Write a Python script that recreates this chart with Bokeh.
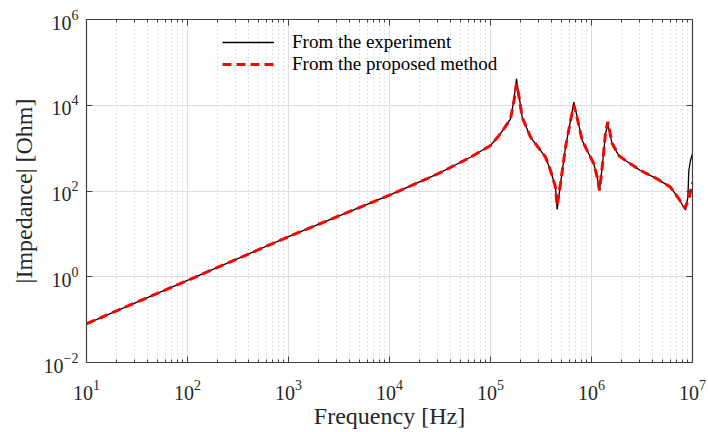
from bokeh.plotting import figure
from bokeh.models import FixedTicker, LogAxis, Legend, LegendItem, Range1d
from bokeh.embed import file_html
from bokeh.resources import INLINE

# ---- data ----
freq_exp = [1e1, 1e2, 1e3, 1e4, 3e4, 6.34e4, 1e5, 1.2e5, 1.355e5, 1.578e5, 1.70e5,
            1.81e5, 1.905e5, 2.06e5, 2.49e5, 3.13e5, 3.51e5, 3.93e5, 4.40e5, 4.57e5,
            4.93e5, 5.53e5, 6.2e5, 6.68e5, 7.22e5, 8.09e5, 9.4e5, 1.054e6, 1.138e6,
            1.2e6, 1.276e6, 1.377e6, 1.45e6, 1.6e6, 1.86e6, 2.17e6, 3.05e6, 4.47e6,
            6.05e6, 7.31e6, 8.53e6, 9.0e6, 9.2e6, 9.55e6, 1e7]
imp_exp = [0.08, 0.82, 8.6, 80, 250, 614, 1150, 1900, 2820, 4830, 12900,
           41400, 18500, 5260, 1800, 881, 614, 301, 123, 37,
           147, 1050, 4410, 11800, 5260, 1510, 738, 431, 210,
           103, 359, 2160, 3700, 1260, 673, 514, 301, 192,
           123, 66, 36, 72, 301, 514, 738]

freq_model = [1e1, 1e2, 1e3, 1e4, 3e4, 6.34e4, 1e5, 1.2e5, 1.355e5, 1.578e5, 1.70e5,
              1.81e5, 1.905e5, 2.06e5, 2.49e5, 3.13e5, 3.51e5, 3.93e5, 4.40e5, 4.57e5,
              4.93e5, 5.53e5, 6.2e5, 6.68e5, 7.22e5, 8.09e5, 9.4e5, 1.054e6, 1.138e6,
              1.2e6, 1.276e6, 1.377e6, 1.45e6, 1.6e6, 1.86e6, 2.17e6, 3.05e6, 4.47e6,
              6.05e6, 7.31e6, 8.4e6, 9.2e6, 9.9e6, 1e7]
imp_model = [0.08, 0.82, 8.6, 80, 250, 614, 1150, 1900, 2820, 4830, 12000,
             32000, 17000, 5260, 1800, 881, 614, 301, 123, 45,
             147, 1050, 4410, 10000, 5000, 1510, 738, 431, 210,
             103, 359, 2300, 4100, 1300, 673, 514, 301, 192,
             123, 66, 40, 65, 140, 158]

x_major = [1e1, 1e2, 1e3, 1e4, 1e5, 1e6, 1e7]
y_major = [1e-2, 1e0, 1e2, 1e4, 1e6]
x_minor = [m * 10.0 ** k for k in range(1, 7) for m in range(2, 10)]

FONT = "Liberation Serif"
TXT = "#262626"

p = figure(width=708, height=432, x_axis_type="log", y_axis_type="log",
           x_range=Range1d(1e1, 1e7), y_range=Range1d(1e-2, 1e6),
           output_backend="svg", toolbar_location=None,
           min_border_left=86, min_border_right=16, min_border_top=19,
           min_border_bottom=70, background_fill_color="white",
           border_fill_color="white", outline_line_color=None)

xt = FixedTicker(ticks=x_major, minor_ticks=x_minor)
yt = FixedTicker(ticks=y_major, minor_ticks=[])
p.xaxis.ticker = xt
p.yaxis.ticker = yt

for g in (p.xgrid, p.ygrid):
    g.grid_line_color = "#dedede"
    g.grid_line_width = 1
p.xgrid.minor_grid_line_color = "#c4c4c4"
p.xgrid.minor_grid_line_dash = "1 3"
p.xgrid.minor_grid_line_width = 1
p.xgrid.ticker = xt
p.ygrid.ticker = yt

def style_axis(ax, labels=True):
    ax.axis_line_color = "#404040"
    ax.axis_line_width = 1.2
    ax.major_tick_line_color = "#404040"
    ax.minor_tick_line_color = "#404040"
    ax.major_tick_in = 6
    ax.major_tick_out = 0
    ax.minor_tick_in = 3
    ax.minor_tick_out = 0
    ax.major_label_text_font = FONT
    if labels:
        ax.major_label_text_color = TXT
        ax.major_label_text_font_size = "20px"
    else:
        ax.major_label_text_color = None
        ax.major_label_text_font_size = "1px"
    ax.axis_label_text_font = FONT
    ax.axis_label_text_color = TXT
    ax.axis_label_text_font_style = "normal"
    ax.axis_label_text_font_size = "24px"

style_axis(p.xaxis[0])
style_axis(p.yaxis[0])
p.xaxis.axis_label = "Frequency [Hz]"
p.yaxis.axis_label = "|Impedance| [Ohm]"
p.xaxis.major_label_standoff = 17
p.yaxis.major_label_standoff = 8
p.xaxis.axis_label_standoff = 0
p.yaxis.axis_label_standoff = 4

top = LogAxis(ticker=xt)
style_axis(top, labels=False)
top.major_label_standoff = 0
p.add_layout(top, "above")
right = LogAxis(ticker=yt)
style_axis(right, labels=False)
right.major_label_standoff = 0
p.add_layout(right, "right")

r1 = p.line(freq_exp, imp_exp, line_color="black", line_width=1.3)
r2 = p.line(freq_model, imp_model, line_color="#ff0000", line_width=3, line_dash="9 5")

legend = Legend(items=[LegendItem(label="From the experiment", renderers=[r1]),
                       LegendItem(label="From the proposed method", renderers=[r2])],
                location=(136, 287), padding=0, spacing=0, margin=0,
                glyph_width=52, glyph_height=20, label_height=20,
                label_standoff=18, label_text_font=FONT,
                label_text_font_size="19px", label_text_color="black",
                border_line_color=None, background_fill_alpha=0)
p.add_layout(legend)

open("out.html", "w").write(file_html(p, INLINE))
